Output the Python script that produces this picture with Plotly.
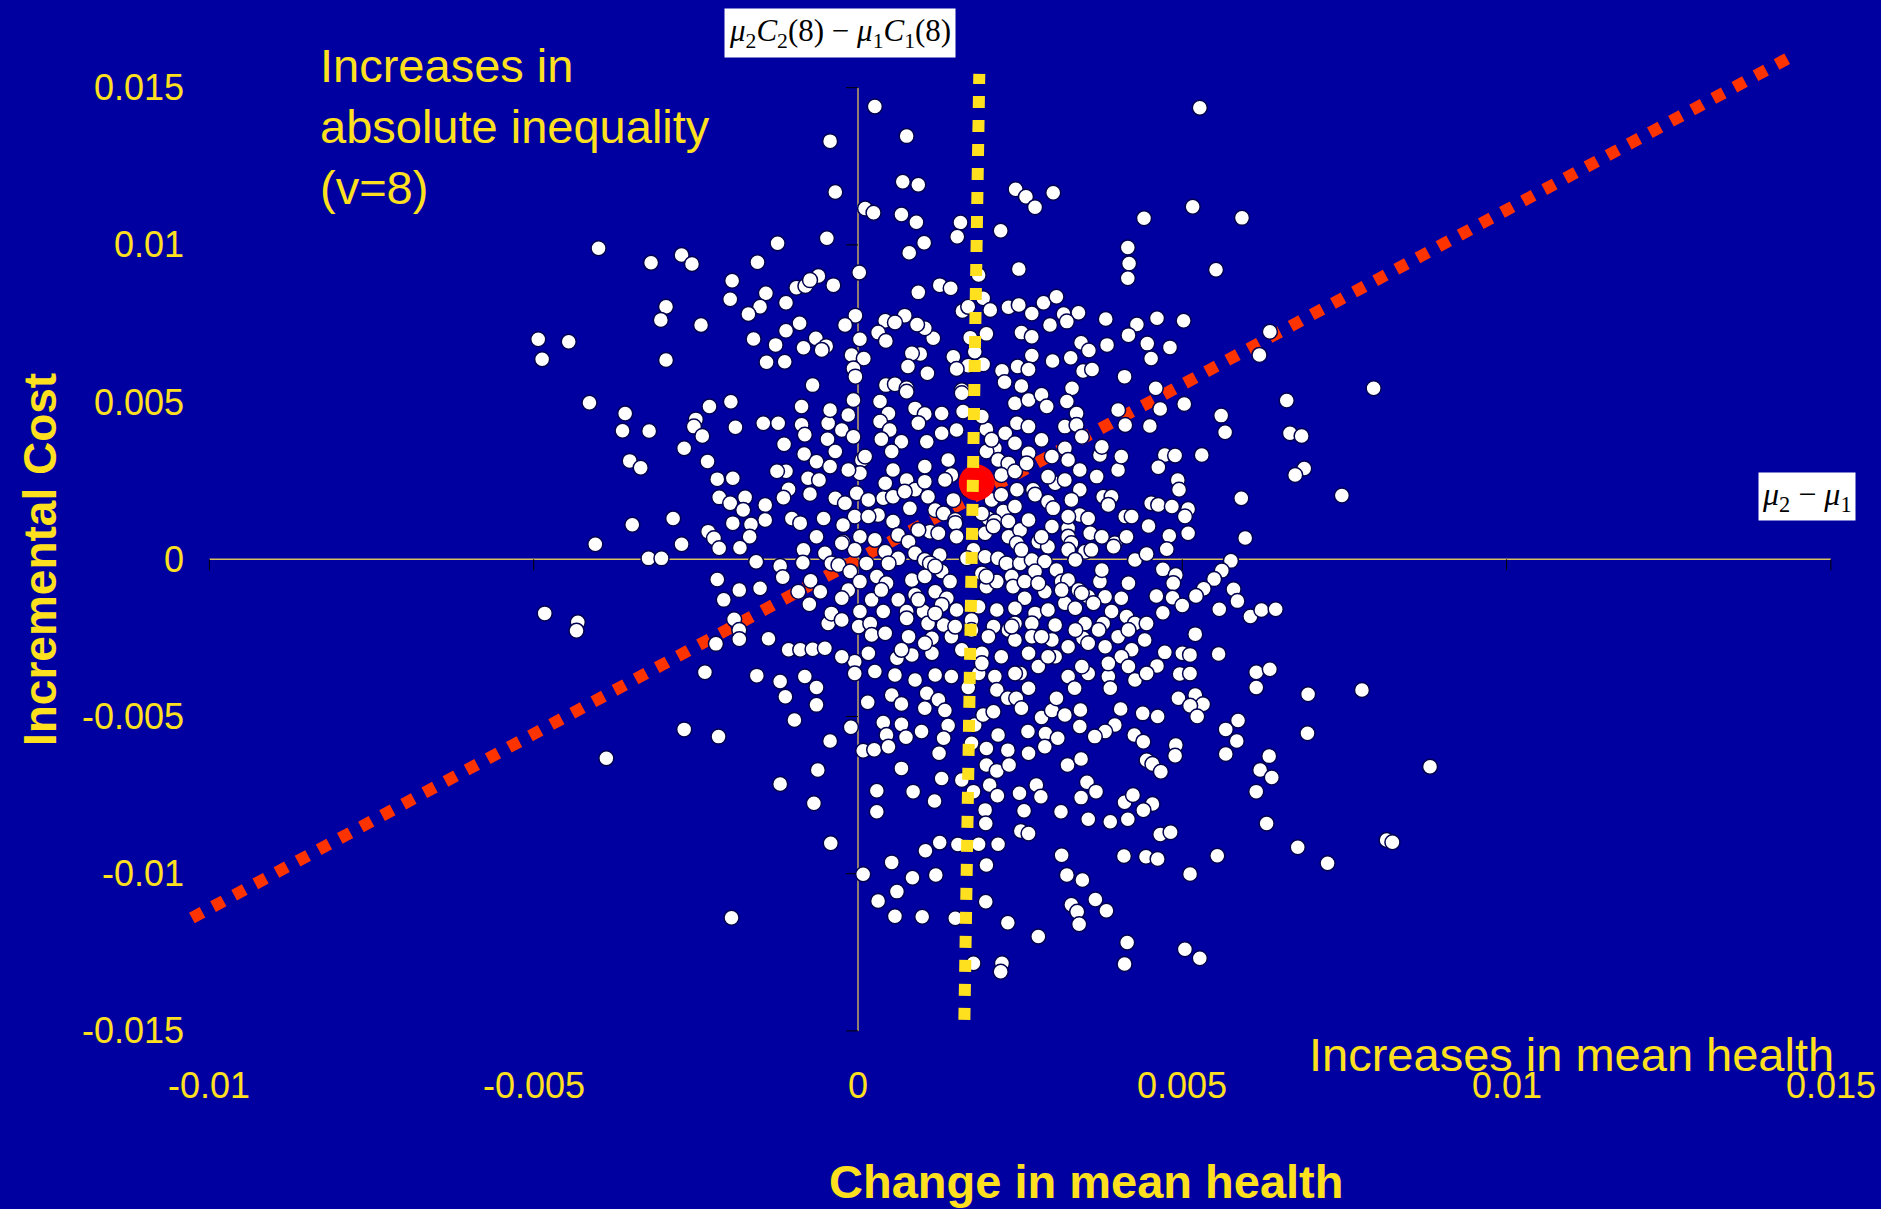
import plotly.graph_objects as go

# ---------------------------------------------------------------------------
# Bootstrap replicates: change in mean health (x) vs incremental cost (y),
# grouped by the part of the cloud they fall in.
# ---------------------------------------------------------------------------
upper_left_health = [
    -0.00043, -0.00035, -0.00400, -0.00319, -0.00272, -0.00256, -0.00124, -0.00048, -0.00155, -0.00194,
    -0.00197, -0.00142, -0.00151, -0.00169, -0.00111, -0.00095, -0.00081, -0.00061, -0.00074, -0.00038,
    -0.00296, -0.00304, -0.00242, -0.00090, -0.00111, -0.00161, -0.00127, -0.00141, -0.00113, -0.00084,
    -0.00065, -0.00049, -0.00056, -0.00070, -0.00493, -0.00487, -0.00446, -0.00296,
]
upper_left_cost = [
    0.01330, 0.01168, 0.00989, 0.00943, 0.00968, 0.00939, 0.01005, 0.01021, 0.00945, 0.00886,
    0.00827, 0.00846, 0.00803, 0.00780, 0.00816, 0.00864, 0.00869, 0.00901, 0.00888, 0.00872,
    0.00803, 0.00761, 0.00745, 0.00751, 0.00727, 0.00701, 0.00682, 0.00627, 0.00628, 0.00673,
    0.00703, 0.00678, 0.00666, 0.00554, 0.00700, 0.00636, 0.00692, 0.00634,
]

upper_mid_health = [
    0.00026, 0.00075, 0.00069, 0.00093, 0.00011, 0.00024, 0.00067, 0.00090, 0.00243, 0.00259,
    0.00273, 0.00301, 0.00158, 0.00153, 0.00220, 0.00102, 0.00079, 0.00002, 0.00093, 0.00126,
    0.00143, 0.00186, 0.00248, 0.00416, 0.00418, 0.00416, 0.00441, 0.00193, 0.00204, 0.00161,
    0.00170, 0.00232, 0.00248, 0.00268, 0.00286, 0.00306, 0.00317, 0.00340, 0.00382, 0.00430,
    0.00296, 0.00322, 0.00252, 0.00268, 0.00417, 0.00344, 0.00356, 0.00384, 0.00300, 0.00328,
    0.00268, 0.00246, 0.00263, 0.00222, 0.00226, 0.00252, 0.00347, 0.00361, 0.00411, 0.00330,
    0.00198, 0.00173, 0.00180, 0.00193, 0.00170, 0.00147, 0.00152, 0.00160, 0.00116, 0.00103,
    0.00091, 0.00072, 0.00042, 0.00057, 0.00031, 0.00043, 0.00096, 0.00083, 0.00077, 0.00107,
    -0.00004, -0.00020, 0.00003, -0.00010, 0.00009, -0.00007, -0.00004, 0.00043, 0.00057, 0.00075,
]
upper_mid_cost = [
    0.01440, 0.01346, 0.01201, 0.01191, 0.01116, 0.01102, 0.01097, 0.01072, 0.01177, 0.01153,
    0.01120, 0.01166, 0.01071, 0.01026, 0.01045, 0.01007, 0.00975, 0.00912, 0.00849, 0.00872,
    0.00862, 0.00904, 0.00923, 0.00992, 0.00941, 0.00894, 0.01085, 0.00830, 0.00793, 0.00790,
    0.00803, 0.00802, 0.00809, 0.00782, 0.00816, 0.00835, 0.00780, 0.00784, 0.00764, 0.00747,
    0.00745, 0.00756, 0.00721, 0.00708, 0.00713, 0.00689, 0.00664, 0.00682, 0.00631, 0.00641,
    0.00648, 0.00613, 0.00604, 0.00600, 0.00563, 0.00551, 0.00599, 0.00604, 0.00581, 0.00544,
    0.00717, 0.00705, 0.00660, 0.00620, 0.00616, 0.00644, 0.00605, 0.00538, 0.00703, 0.00735,
    0.00747, 0.00775, 0.00759, 0.00753, 0.00721, 0.00694, 0.00653, 0.00655, 0.00613, 0.00592,
    0.00775, 0.00745, 0.00700, 0.00650, 0.00639, 0.00607, 0.00581, 0.00554, 0.00557, 0.00544,
]

upper_right_health = [
    0.00527, 0.00516, 0.00592, 0.00552, 0.00461, 0.00502, 0.00446, 0.00481, 0.00452, 0.00635,
    0.00619, 0.00459, 0.00795,
]
upper_right_cost = [
    0.01436, 0.01121, 0.01086, 0.00921, 0.00767, 0.00759, 0.00686, 0.00674, 0.00639, 0.00724,
    0.00650, 0.00544, 0.00544,
]

mid_left_health = [
    -0.00414, -0.00359, -0.00363, -0.00322, -0.00352, -0.00335, -0.00348, -0.00405, -0.00285, -0.00272,
    -0.00323, -0.00303, -0.00483, -0.00432, -0.00434, -0.00250, -0.00253, -0.00240, -0.00229, -0.00196,
    -0.00189, -0.00268, -0.00232, -0.00217, -0.00193, -0.00214, -0.00197, -0.00174, -0.00177, -0.00143,
    -0.00143, -0.00193, -0.00165, -0.00167, -0.00231, -0.00222, -0.00214, -0.00182, -0.00157, -0.00146,
    -0.00123, -0.00114, -0.00087, -0.00087, -0.00082, -0.00083, -0.00046, -0.00047, -0.00043, -0.00111,
    -0.00125, -0.00077, -0.00060, -0.00064, -0.00043, -0.00107, -0.00115, -0.00074, -0.00102, -0.00089,
    -0.00053, -0.00064, -0.00084, -0.00051, -0.00085, -0.00041, -0.00120, -0.00116, -0.00073, -0.00092,
    -0.00058, -0.00075, -0.00217, -0.00183, -0.00151, -0.00207, -0.00191, -0.00183, -0.00183, -0.00219,
    -0.00138, -0.00236, -0.00156, -0.00107, -0.00089, -0.00070, -0.00051, -0.00120, -0.00082, -0.00046,
    -0.00041,
]
mid_left_cost = [
    0.00498, 0.00464, 0.00409, 0.00408, 0.00313, 0.00291, 0.00110, 0.00048, 0.00130, 0.00048,
    0.00003, 0.00003, -0.00172, -0.00200, -0.00227, 0.00445, 0.00422, 0.00392, 0.00486, 0.00501,
    0.00420, 0.00353, 0.00311, 0.00255, 0.00258, 0.00197, 0.00178, 0.00197, 0.00157, 0.00173,
    0.00125, 0.00115, 0.00111, 0.00072, 0.00088, 0.00067, 0.00035, 0.00037, -0.00008, 0.00433,
    0.00433, 0.00366, 0.00486, 0.00428, 0.00396, 0.00335, 0.00433, 0.00382, 0.00475, 0.00280,
    0.00280, 0.00258, 0.00252, 0.00310, 0.00295, 0.00223, 0.00196, 0.00208, 0.00130, 0.00115,
    0.00130, 0.00072, 0.00030, 0.00019, -0.00011, -0.00013, -0.00021, -0.00057, -0.00068, -0.00103,
    -0.00103, -0.00143, -0.00064, -0.00098, -0.00092, -0.00129, -0.00191, -0.00225, -0.00254, -0.00269,
    -0.00253, -0.00359, -0.00370, -0.00288, -0.00288, -0.00286, -0.00283, -0.00389, -0.00373, -0.00204,
    -0.00172,
]

centre_health = [
    -0.00007, 0.00034, 0.00047, 0.00075, 0.00088, 0.00103, 0.00129, 0.00160, 0.00162, 0.00242, 0.00263, 0.00283, 0.00291, 0.00322, 0.00337, 0.00401, 0.00412,
    -0.00025, -0.00007, 0.00034, 0.00049, 0.00036, 0.00067, 0.00052, 0.00106, 0.00152, 0.00198, 0.00227, 0.00211, 0.00245, 0.00263, 0.00319, 0.00337, 0.00345, 0.00319, 0.00299, 0.00263, 0.00242, 0.00198,
    -0.00035, 0.00006, 0.00003, -0.00015, 0.00054, 0.00075, 0.00088, 0.00103, 0.00144, 0.00216, 0.00232, 0.00221, 0.00242, 0.00260, 0.00270, 0.00245, 0.00304, 0.00319, 0.00342, 0.00368, 0.00373, 0.00401, 0.00342, 0.00378, 0.00391,
    -0.00035, -0.00020, -0.00002, 0.00016, 0.00039, 0.00054, 0.00072, 0.00080, 0.00108, 0.00119, 0.00132, 0.00147, 0.00150, 0.00206, 0.00221, 0.00224, 0.00242, 0.00201, 0.00211, 0.00232, 0.00273, 0.00293, 0.00301, 0.00329, 0.00342, 0.00355, 0.00386, 0.00412, 0.00422,
    -0.00005, 0.00031, 0.00054, -0.00023, 0.00003, -0.00023, 0.00062, 0.00078, 0.00111, 0.00124, 0.00150, 0.00152, 0.00196, 0.00209, 0.00232, 0.00250, 0.00245, 0.00278, 0.00299, 0.00293, 0.00324, 0.00324, 0.00358, 0.00396, 0.00414, 0.00329,
    -0.00030, -0.00012, 0.00013, 0.00042, 0.00062, 0.00088, 0.00103, 0.00126, 0.00111, 0.00178, 0.00196, 0.00216, 0.00229, 0.00250, 0.00268, 0.00288, 0.00324, 0.00350, 0.00360, 0.00394, 0.00427, 0.00335, 0.00306, 0.00273,
    -0.00015, 0.00003, 0.00029, 0.00044, 0.00083, 0.00103, 0.00129, 0.00142, 0.00119, 0.00191, 0.00198, 0.00214, 0.00237, 0.00239, 0.00257, 0.00288, 0.00314, 0.00324, 0.00340, 0.00373, 0.00381, 0.00406, 0.00355, 0.00257, 0.00137, 0.00088, 0.00062, 0.00021, -0.00025,
    0.00003, 0.00039, 0.00075, 0.00101, 0.00129, 0.00152, 0.00186, 0.00214, 0.00242, 0.00273, 0.00293, 0.00319, 0.00335, 0.00363, 0.00391, 0.00414, 0.00427, 0.00378, 0.00350, 0.00304, 0.00268, 0.00242, 0.00209, 0.00175, 0.00132, 0.00108, 0.00075, 0.00001, 0.00019, -0.00025,
    0.00021, 0.00042, 0.00078, 0.00114, 0.00144, 0.00175, 0.00201, 0.00232, 0.00242, 0.00268, 0.00299, 0.00324, 0.00347, 0.00381, 0.00401, 0.00422, 0.00406, 0.00355, 0.00263, 0.00221, 0.00191, 0.00160, 0.00114, 0.00083, 0.00060, 0.00016, -0.00005, -0.00025,
    -0.00005, 0.00026, 0.00057, 0.00088, 0.00119, 0.00144, 0.00186, 0.00211, 0.00250, 0.00278, 0.00304, 0.00324, 0.00355, 0.00386, 0.00417, 0.00427,
]
centre_cost = [
    0.00507, 0.00502, 0.00464, 0.00533, 0.00480, 0.00462, 0.00464, 0.00528, 0.00470, 0.00496, 0.00507, 0.00523, 0.00486, 0.00502, 0.00464, 0.00475, 0.00427,
    0.00411, 0.00390, 0.00438, 0.00411, 0.00382, 0.00374, 0.00343, 0.00374, 0.00411, 0.00414, 0.00401, 0.00353, 0.00433, 0.00422, 0.00422, 0.00427, 0.00390, 0.00353, 0.00327, 0.00337, 0.00369, 0.00343,
    0.00343, 0.00316, 0.00274, 0.00284, 0.00284, 0.00252, 0.00221, 0.00247, 0.00268, 0.00316, 0.00305, 0.00268, 0.00279, 0.00305, 0.00221, 0.00221, 0.00242, 0.00252, 0.00284, 0.00263, 0.00332, 0.00284, 0.00221, 0.00199, 0.00199,
    0.00194, 0.00178, 0.00210, 0.00189, 0.00194, 0.00199, 0.00215, 0.00162, 0.00199, 0.00157, 0.00146, 0.00189, 0.00125, 0.00189, 0.00205, 0.00152, 0.00168, 0.00130, 0.00120, 0.00120, 0.00205, 0.00183, 0.00162, 0.00189, 0.00141, 0.00130, 0.00173, 0.00136, 0.00136,
    0.00136, 0.00141, 0.00120, 0.00109, 0.00072, 0.00056, 0.00077, 0.00056, 0.00088, 0.00083, 0.00115, 0.00072, 0.00083, 0.00104, 0.00072, 0.00093, 0.00051, 0.00056, 0.00104, 0.00040, 0.00099, 0.00072, 0.00083, 0.00051, 0.00072, 0.00051,
    -0.00018, -0.00039, -0.00013, 0.00024, 0.00003, 0.00019, -0.00002, 0.00014, -0.00013, 0.00030, 0.00008, 0.00003, -0.00013, -0.00013, -0.00002, -0.00007, 0.00030, 0.00024, 0.00030, 0.00040, -0.00002, -0.00002, -0.00034, -0.00039,
    -0.00098, -0.00071, -0.00055, -0.00076, -0.00066, -0.00055, -0.00039, -0.00071, -0.00103, -0.00045, -0.00087, -0.00071, -0.00055, -0.00087, -0.00071, -0.00103, -0.00071, -0.00066, -0.00098, -0.00071, -0.00119, -0.00124, -0.00119, -0.00124, -0.00124, -0.00113, -0.00129, -0.00129, -0.00124,
    -0.00166, -0.00166, -0.00166, -0.00166, -0.00145, -0.00161, -0.00151, -0.00161, -0.00156, -0.00172, -0.00161, -0.00140, -0.00156, -0.00140, -0.00166, -0.00182, -0.00204, -0.00204, -0.00204, -0.00209, -0.00204, -0.00204, -0.00214, -0.00193, -0.00209, -0.00204, -0.00188, -0.00214, -0.00204, -0.00193,
    -0.00241, -0.00235, -0.00246, -0.00251, -0.00246, -0.00225, -0.00246, -0.00225, -0.00257, -0.00246, -0.00257, -0.00278, -0.00251, -0.00278, -0.00246, -0.00288, -0.00310, -0.00267, -0.00299, -0.00310, -0.00299, -0.00288, -0.00299, -0.00304, -0.00315, -0.00299, -0.00326, -0.00310,
    -0.00363, -0.00357, -0.00368, -0.00384, -0.00368, -0.00373, -0.00363, -0.00373, -0.00363, -0.00341, -0.00310, -0.00373, -0.00363, -0.00373, -0.00341, -0.00384,
]

# partly hidden replicates in the densest part of the cloud
centre_overlap_health = [
    -0.00015, 0.00093, 0.00206, 0.00134, 0.00170, 0.00016, -0.00005, 0.00047, 0.00119, 0.00168,
    0.00198, 0.00278, 0.00314, 0.00345, 0.00036, 0.00093, 0.00119, 0.00150, 0.00237, 0.00283,
    0.00335, 0.00371, 0.00067, 0.00103, 0.00191, 0.00242, 0.00293, 0.00345, 0.00386, 0.00417,
    0.00417, 0.00376, 0.00283, 0.00324, 0.00263, 0.00191, 0.00180, 0.00293, 0.00324, 0.00406,
    0.00376, 0.00283, 0.00191, 0.00129, 0.00011, 0.00042, 0.00103, 0.00139, -0.00025, 0.00026,
    0.00093, 0.00376, 0.00252,
]
centre_overlap_cost = [
    0.00459, 0.00433, 0.00380, 0.00252, 0.00221, 0.00136, 0.00030, -0.00013, -0.00023, 0.00003,
    -0.00055, -0.00076, -0.00098, -0.00108, -0.00098, -0.00129, -0.00172, -0.00214, -0.00214, -0.00246,
    -0.00225, -0.00225, -0.00288, -0.00267, -0.00331, -0.00363, -0.00310, -0.00341, -0.00331, -0.00225,
    -0.00076, -0.00034, 0.00072, 0.00136, 0.00125, 0.00146, 0.00263, 0.00263, 0.00316, 0.00327,
    0.00358, 0.00380, 0.00454, 0.00401, 0.00327, 0.00242, 0.00295, 0.00316, 0.00051, 0.00062,
    0.00093, 0.00072, 0.00030,
]

mid_right_health = [
    0.00466, 0.00503, 0.00450, 0.00560, 0.00566, 0.00661, 0.00666, 0.00684, 0.00688, 0.00674,
    0.00746, 0.00530, 0.00473, 0.00463, 0.00489, 0.00493, 0.00495, 0.00591, 0.00452, 0.00463,
    0.00484, 0.00509, 0.00504, 0.00509, 0.00480, 0.00448, 0.00476, 0.00445, 0.00597, 0.00575,
    0.00561, 0.00549, 0.00533, 0.00521, 0.00470, 0.00490, 0.00486, 0.00460, 0.00485, 0.00500,
    0.00470, 0.00579, 0.00585, 0.00557, 0.00605, 0.00622, 0.00644, 0.00445, 0.00442, 0.00520,
    0.00473, 0.00500, 0.00512, 0.00556, 0.00461, 0.00445, 0.00496, 0.00512, 0.00614, 0.00635,
]
mid_right_cost = [
    0.00478, 0.00494, 0.00424, 0.00457, 0.00404, 0.00505, 0.00401, 0.00392, 0.00289, 0.00268,
    0.00203, 0.00332, 0.00332, 0.00293, 0.00330, 0.00252, 0.00221, 0.00194, 0.00178, 0.00173,
    0.00168, 0.00160, 0.00136, 0.00083, 0.00075, 0.00106, 0.00032, 0.00017, 0.00068, -0.00005,
    -0.00036, -0.00063, -0.00094, -0.00117, -0.00032, -0.00050, -0.00076, -0.00117, -0.00122, -0.00147,
    -0.00170, -0.00095, -0.00133, -0.00159, -0.00182, -0.00161, -0.00159, -0.00204, -0.00257, -0.00238,
    -0.00296, -0.00299, -0.00304, -0.00301, -0.00339, -0.00363, -0.00365, -0.00363, -0.00359, -0.00350,
]

lower_left_health = [
    -0.00268, -0.00215, -0.00388, -0.00112, -0.00064, -0.00064, -0.00098, -0.00043, -0.00062, -0.00120,
    -0.00068, -0.00042, -0.00195,
]
lower_left_cost = [
    -0.00541, -0.00564, -0.00633, -0.00437, -0.00408, -0.00463, -0.00511, -0.00578, -0.00670, -0.00715,
    -0.00776, -0.00903, -0.01140,
]

lower_mid_health = [
    0.00015, -0.00011, 0.00052, 0.00067, 0.00039, 0.00067, 0.00044, 0.00074, 0.00098, 0.00008,
    0.00025, 0.00047, 0.00106, 0.00124, 0.00134, 0.00103, 0.00139, 0.00132, 0.00125, 0.00067,
    0.00029, 0.00029, 0.00085, 0.00118, 0.00129, 0.00008, 0.00052, 0.00031, 0.00060, 0.00057,
    0.00099, 0.00084, 0.00104, 0.00120, 0.00126, 0.00150, 0.00154, 0.00160, 0.00170, 0.00180,
    0.00175, 0.00178, 0.00193, 0.00209, 0.00216, 0.00198, 0.00198, 0.00214, 0.00203, 0.00215,
    0.00196, 0.00197, 0.00186, 0.00216, 0.00198, 0.00197, 0.00231, 0.00222, 0.00220, 0.00178,
    0.00214, 0.00231, 0.00244, 0.00252, 0.00262, 0.00231, 0.00233, 0.00263, 0.00249, 0.00275,
    0.00282, 0.00256, 0.00251, 0.00263, 0.00263, 0.00283, 0.00299, 0.00306, 0.00289, 0.00288,
    0.00308, 0.00319, 0.00343, 0.00342, 0.00334, 0.00389, 0.00405, 0.00396, 0.00381, 0.00365,
    0.00426, 0.00323, 0.00344, 0.00353, 0.00367, 0.00344, 0.00313, 0.00355, 0.00389, 0.00416,
    0.00411, 0.00424, 0.00314, 0.00410, 0.00322, 0.00346, 0.00366, 0.00383, 0.00329, 0.00338,
    0.00341, 0.00278, 0.00415, 0.00411,
]
lower_mid_cost = [
    -0.00455, -0.00534, -0.00432, -0.00460, -0.00519, -0.00525, -0.00559, -0.00566, -0.00548, -0.00609,
    -0.00606, -0.00596, -0.00426, -0.00447, -0.00481, -0.00474, -0.00529, -0.00569, -0.00617, -0.00665,
    -0.00736, -0.00803, -0.00739, -0.00769, -0.00697, -0.01002, -0.00964, -0.01087, -0.01057, -0.01135,
    -0.01137, -0.01013, -0.00927, -0.01004, -0.00901, -0.01142, -0.00907, -0.00702, -0.00408, -0.00527,
    -0.00585, -0.00739, -0.00495, -0.00485, -0.00559, -0.00602, -0.00654, -0.00673, -0.00718, -0.00752,
    -0.00797, -0.00840, -0.00906, -0.00906, -0.00972, -0.01089, -0.01156, -0.01285, -0.01312, -0.01285,
    -0.00416, -0.00442, -0.00442, -0.00474, -0.00548, -0.00607, -0.00654, -0.00617, -0.00744, -0.00718,
    -0.00755, -0.00800, -0.00864, -0.00872, -0.00410, -0.00503, -0.00481, -0.00442, -0.00554, -0.00596,
    -0.00569, -0.00495, -0.00479, -0.00532, -0.00410, -0.00410, -0.00476, -0.00527, -0.00548, -0.00564,
    -0.00559, -0.00654, -0.00635, -0.00709, -0.00739, -0.00758, -0.00803, -0.00827, -0.00835, -0.00827,
    -0.00773, -0.00750, -0.00941, -0.00944, -0.01004, -0.01020, -0.01082, -0.01118, -0.01099, -0.01121,
    -0.01161, -0.01200, -0.01219, -0.01287,
]

lower_right_health = [
    0.00614, 0.00694, 0.00777, 0.00494, 0.00520, 0.00532, 0.00512, 0.00523, 0.00439, 0.00462,
    0.00567, 0.00586, 0.00584, 0.00567, 0.00440, 0.00490, 0.00489, 0.00445, 0.00454, 0.00467,
    0.00693, 0.00634, 0.00620, 0.00638, 0.00614, 0.00630, 0.00882, 0.00454, 0.00440, 0.00466,
    0.00482, 0.00444, 0.00462, 0.00554, 0.00512, 0.00678, 0.00724, 0.00815, 0.00824, 0.00504,
    0.00527,
]
lower_right_cost = [
    -0.00408, -0.00429, -0.00416, -0.00442, -0.00432, -0.00461, -0.00466, -0.00500, -0.00490, -0.00500,
    -0.00541, -0.00513, -0.00578, -0.00619, -0.00580, -0.00591, -0.00625, -0.00639, -0.00651, -0.00676,
    -0.00553, -0.00626, -0.00670, -0.00694, -0.00739, -0.00840, -0.00660, -0.00778, -0.00798, -0.00875,
    -0.00868, -0.00946, -0.00953, -0.00943, -0.01001, -0.00916, -0.00967, -0.00893, -0.00900, -0.01240,
    -0.01269,
]

# point estimate
mean_health = [0.00183]
mean_cost = [0.00244]

# threshold lines
mean_health_line_x = [-0.01027, 0.01437]
mean_health_line_y = [-0.01141, 0.01597]
abs_ineq_line_x = [0.00164, 0.00187]
abs_ineq_line_y = [-0.01465, 0.01544]

# axis ticks
x_tick_vals = [-0.01, -0.005, 0, 0.005, 0.01, 0.015]
x_tick_text = ["-0.01", "-0.005", "0", "0.005", "0.01", "0.015"]
y_tick_vals = [0.015, 0.01, 0.005, 0, -0.005, -0.01, -0.015]
y_tick_text = ["0.015", "0.01", "0.005", "0", "-0.005", "-0.01", "-0.015"]

health = (upper_left_health + upper_mid_health + upper_right_health + mid_left_health
          + centre_health + centre_overlap_health + mid_right_health + lower_left_health
          + lower_mid_health + lower_right_health)
cost = (upper_left_cost + upper_mid_cost + upper_right_cost + mid_left_cost
        + centre_cost + centre_overlap_cost + mid_right_cost + lower_left_cost
        + lower_mid_cost + lower_right_cost)

BG = "#0000A0"
YELLOW = "#FFE01F"
RED_ORANGE = "#FF3300"
AXIS_LINE = "#C0A860"
SANS = "Liberation Sans, Arial, sans-serif"
SERIF = "Liberation Serif, Times New Roman, serif"

fig = go.Figure()

fig.add_trace(go.Scatter(
    x=mean_health_line_x, y=mean_health_line_y, mode="lines",
    line=dict(color=RED_ORANGE, width=12, dash="dot"), hoverinfo="skip",
))
fig.add_trace(go.Scatter(
    x=health, y=cost, mode="markers",
    marker=dict(size=15, color="white", line=dict(color="#000050", width=1.5)),
))
fig.add_trace(go.Scatter(
    x=mean_health, y=mean_cost, mode="markers",
    marker=dict(size=36, color="#FF0000", line=dict(width=0)),
))
fig.add_trace(go.Scatter(
    x=abs_ineq_line_x, y=abs_ineq_line_y, mode="lines",
    line=dict(color=YELLOW, width=12, dash="dot"), hoverinfo="skip",
))

# axes crossing at the origin
shapes = [
    dict(type="line", xref="x", yref="y", x0=x_tick_vals[0], x1=x_tick_vals[-1], y0=0, y1=0,
         line=dict(color="#D8C060", width=1.5), layer="below"),
    dict(type="line", xref="x", yref="y", x0=0, x1=0, y0=y_tick_vals[-1], y1=y_tick_vals[0],
         line=dict(color=AXIS_LINE, width=1.5), layer="below"),
]
for xv in x_tick_vals:
    shapes.append(dict(type="line", xref="x", yref="y", x0=xv, x1=xv, y0=0, y1=-0.00035,
                       line=dict(color="black", width=1), layer="below"))
for yv in y_tick_vals:
    shapes.append(dict(type="line", xref="x", yref="y", x0=-0.000185, x1=0, y0=yv, y1=yv,
                       line=dict(color="black", width=1), layer="below"))

annotations = []
for yv, txt in zip(y_tick_vals, y_tick_text):
    annotations.append(dict(x=-0.01036, y=yv, xref="x", yref="y", text=txt, showarrow=False,
                            xanchor="right", yanchor="middle",
                            font=dict(family=SANS, size=36, color=YELLOW)))
for xv, txt in zip(x_tick_vals, x_tick_text):
    annotations.append(dict(x=xv, y=-0.0387, xref="x", yref="paper", text=txt, showarrow=False,
                            xanchor="center", yanchor="middle",
                            font=dict(family=SANS, size=36, color=YELLOW)))

annotations += [
    dict(x=0.5477, y=-0.134, xref="paper", yref="paper", text="<b>Change in mean health</b>",
         showarrow=False, xanchor="center", yanchor="middle",
         font=dict(family=SANS, size=47, color=YELLOW)),
    dict(x=-0.0611, y=0.4836, xref="paper", yref="paper", text="<b>Incremental Cost</b>",
         showarrow=False, textangle=-90, xanchor="center", yanchor="middle",
         font=dict(family=SANS, size=46, color=YELLOW)),
    dict(x=-0.00833, y=0.01378, xref="x", yref="y",
         text="Increases in<br>absolute inequality<br>(v=8)", showarrow=False, align="left",
         xanchor="left", yanchor="middle", font=dict(family=SANS, size=47, color=YELLOW)),
    dict(x=0.9843, y=-0.007, xref="paper", yref="paper", text="Increases in mean health",
         showarrow=False, xanchor="right", yanchor="middle",
         font=dict(family=SANS, size=47, color=YELLOW)),
    dict(x=0.4045, y=1.007, xref="paper", yref="paper",
         text="<i>μ</i><sub>2</sub><i>C</i><sub>2</sub>(8) − <i>μ</i><sub>1</sub><i>C</i><sub>1</sub>(8)",
         showarrow=False, xanchor="center", yanchor="middle", bgcolor="white", borderpad=4,
         font=dict(family=SERIF, size=31, color="black")),
    dict(x=0.01463, y=0.00200, xref="x", yref="y",
         text="<i>μ</i><sub>2</sub> − <i>μ</i><sub>1</sub>",
         showarrow=False, xanchor="center", yanchor="middle", bgcolor="white", borderpad=3,
         font=dict(family=SERIF, size=32, color="black")),
]

fig.update_layout(
    width=1881, height=1209,
    margin=dict(l=145, r=18, t=40, b=162),
    paper_bgcolor=BG, plot_bgcolor=BG,
    showlegend=False,
    xaxis=dict(range=[-0.010993, 0.015495], visible=False),
    yaxis=dict(range=[-0.015512, 0.016517], visible=False),
    shapes=shapes,
    annotations=annotations,
)

fig.write_html("out.html")
